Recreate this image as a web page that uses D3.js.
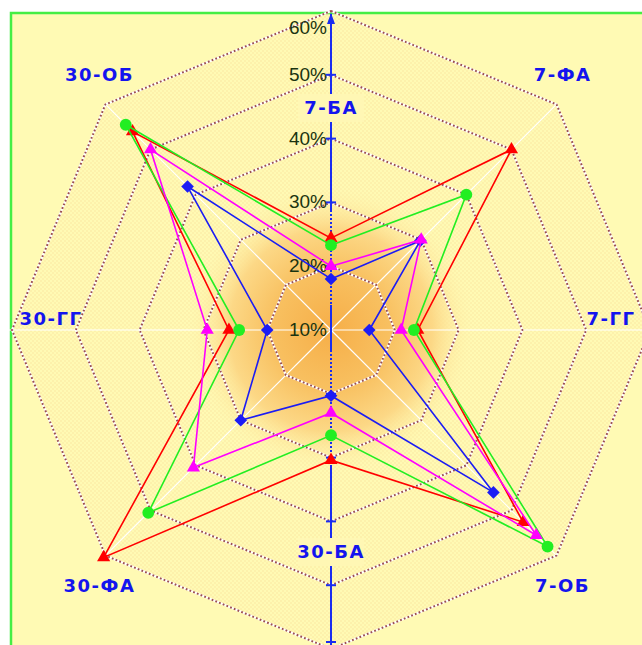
<!DOCTYPE html>
<html>
<head>
<meta charset="utf-8">
<script src="https://cdn.jsdelivr.net/npm/d3@7"></script>
<style>
  body { margin: 0; background: #fff; }
  svg { display: block; }
</style>
</head>
<body>
<div id="radar"></div>
<script>
// axes, clockwise from the top
var axes = ["7-БА", "7-ФА", "7-ГГ", "7-ОБ", "30-БА", "30-ФА", "30-ГГ", "30-ОБ"];
var tickValues = [10, 20, 30, 40, 50, 60];

// series values in %
var redValues     = [24.4, 50, 23.6, 52.6, 30.4, 60.4, 26, 54];
var greenValues   = [23.3, 40, 23, 58, 26.5, 50.5, 24.4, 55.5];
var blueValues    = [18, 29.8, 16, 46, 20.3, 30, 20, 41.8];
var magentaValues = [20, 30, 21, 55.5, 23, 40.5, 29.4, 50];

var series = [
  {values: redValues,     colour: "#ff0000", marker: "triangle"},
  {values: greenValues,   colour: "#22ee22", marker: "circle"},
  {values: blueValues,    colour: "#1c1cf4", marker: "diamond"},
  {values: magentaValues, colour: "#ff00ff", marker: "triangle"}
];

drawRadar();

function drawRadar() {
  var width = 642, height = 645;
  var cx = 331, cy = 330;
  var radius = 319;

  var r = d3.scaleLinear().domain([10, 60]).range([0, radius]);
  var angle = function(i) { return i * 2 * Math.PI / axes.length; };
  var px = function(i, v) { return cx + Math.sin(angle(i)) * r(v); };
  var py = function(i, v) { return cy - Math.cos(angle(i)) * r(v); };

  var svg = d3.select("#radar")
    .append("svg")
      .attr("width", width)
      .attr("height", height);

  var defs = svg.append("defs");

  var grad = defs.append("radialGradient")
      .attr("id", "glow")
      .attr("gradientUnits", "userSpaceOnUse")
      .attr("cx", cx).attr("cy", cy).attr("r", 145);
  grad.append("stop").attr("offset", "0%").attr("stop-color", "#f6ae48");
  grad.append("stop").attr("offset", "40%").attr("stop-color", "#f8c060");
  grad.append("stop").attr("offset", "70%").attr("stop-color", "#fcd886");
  grad.append("stop").attr("offset", "100%").attr("stop-color", "#fff6b0").attr("stop-opacity", 0);

  var pat = defs.append("pattern")
      .attr("id", "dots")
      .attr("patternUnits", "userSpaceOnUse")
      .attr("width", 4).attr("height", 4);
  pat.append("circle").attr("cx", 1).attr("cy", 1).attr("r", 0.7).attr("fill", "#f6d490");
  pat.append("circle").attr("cx", 3).attr("cy", 3).attr("r", 0.7).attr("fill", "#f6d490");

  // plot frame
  svg.append("rect")
    .attr("x", 11).attr("y", 13)
    .attr("width", width + 20).attr("height", height + 20)
    .attr("fill", "#fffab4")
    .attr("stroke", "#44ee44")
    .attr("stroke-width", 2.5);

  var ring = function(v) {
    return d3.range(axes.length).map(function(i) { return [px(i, v), py(i, v)]; });
  };
  var poly = d3.line().curve(d3.curveLinearClosed);

  svg.append("path")
    .attr("d", poly(ring(60)))
    .attr("fill", "url(#dots)")
    .attr("opacity", 0.7);

  svg.append("circle")
    .attr("cx", cx).attr("cy", cy).attr("r", 145)
    .attr("fill", "url(#glow)");

  // spokes
  svg.selectAll(".spoke")
    .data(d3.range(axes.length).filter(function(i) { return i % 4 != 0; }))
    .enter()
    .append("line")
      .attr("x1", cx).attr("y1", cy)
      .attr("x2", function(i) { return i % 4 == 2 ? cx + Math.sin(angle(i)) * 330 : px(i, 60); })
      .attr("y2", function(i) { return py(i, 60); })
      .attr("stroke", "#ffffff")
      .attr("stroke-width", 1.2);

  // dotted octagon rings
  var rings = tickValues.slice(1);
  svg.selectAll(".ringw")
    .data(rings).enter()
    .append("path")
      .attr("d", function(v) { return poly(ring(v)); })
      .attr("fill", "none")
      .attr("stroke", "#ffffff")
      .attr("stroke-width", 2.2);
  svg.selectAll(".ringd")
    .data(rings).enter()
    .append("path")
      .attr("d", function(v) { return poly(ring(v)); })
      .attr("fill", "none")
      .attr("stroke", "#9c5050")
      .attr("stroke-width", 2)
      .attr("stroke-dasharray", "1.8,2.2");

  // vertical value axis
  var axisColour = "#1a2cf0";
  var segs = [[14, cy - 120, null], [cy - 120, cy - 25, "2,2"], [cy - 25, cy + 20, null],
              [cy + 20, cy + 135, "2,2"], [cy + 135, height, null]];
  svg.selectAll(".vaxis")
    .data(segs).enter()
    .append("line")
      .attr("x1", cx).attr("x2", cx)
      .attr("y1", function(d) { return d[0]; })
      .attr("y2", function(d) { return d[1]; })
      .attr("stroke", axisColour)
      .attr("stroke-width", 2)
      .attr("stroke-dasharray", function(d) { return d[2]; });
  svg.append("path")
    .attr("d", "M" + cx + ",13 L" + (cx - 4) + ",24 L" + (cx + 4) + ",24 Z")
    .attr("fill", axisColour);

  var tickYs = [];
  tickValues.slice(1, 5).forEach(function(v) { tickYs.push(cy - r(v)); tickYs.push(cy + r(v)); });
  tickYs.push(height - 3);
  svg.selectAll(".tick")
    .data(tickYs).enter()
    .append("line")
      .attr("x1", cx - 5).attr("x2", cx + 5)
      .attr("y1", function(d) { return d; })
      .attr("y2", function(d) { return d; })
      .attr("stroke", axisColour)
      .attr("stroke-width", 2);

  svg.selectAll(".tlabel")
    .data(tickValues).enter()
    .append("text")
      .attr("x", cx - 4)
      .attr("y", function(v) { return Math.max(cy - r(v), 28) + 6; })
      .attr("text-anchor", "end")
      .style("font-family", "'Liberation Sans Narrow', 'Liberation Sans', sans-serif")
      .style("font-size", "19px")
      .style("fill", "#1a3410")
      .text(function(v) { return v + "%"; });

  // series
  var line = d3.line()
    .x(function(d, i) { return px(i, d); })
    .y(function(d, i) { return py(i, d); })
    .curve(d3.curveLinearClosed);

  var symbolFor = {
    triangle: d3.symbol().type(d3.symbolTriangle).size(75),
    circle: d3.symbol().type(d3.symbolCircle).size(110),
    diamond: d3.symbol().type(d3.symbolSquare).size(80)
  };

  series.forEach(function(s) {
    var g = svg.append("g");
    g.append("path")
      .attr("d", line(s.values))
      .attr("fill", "none")
      .attr("stroke", s.colour)
      .attr("stroke-width", 1.6);
    g.selectAll("path.mark")
      .data(s.values).enter()
      .append("path")
        .attr("class", "mark")
        .attr("d", symbolFor[s.marker])
        .attr("transform", function(d, i) {
          var t = "translate(" + px(i, d) + "," + py(i, d) + ")";
          return s.marker == "diamond" ? t + " rotate(45)" : t;
        })
        .attr("fill", s.colour);
  });

  // axis names
  var labelPos = function(i) {
    var sx = Math.sin(angle(i)), sy = -Math.cos(angle(i));
    if (i % 4 == 0) return [cx, cy + sy * 222];
    if (i % 4 == 2) return [cx + sx * 280, cy - 11];
    return [px(i, 60) + Math.sign(sx) * 6, py(i, 60) + Math.sign(sy) * 30];
  };

  var names = svg.selectAll(".aname")
    .data(axes).enter()
    .append("g")
      .attr("transform", function(d, i) { return "translate(" + labelPos(i) + ")"; });
  names.filter(function(d, i) { return i % 4 == 0; })
    .append("rect")
      .attr("x", -33).attr("y", -14)
      .attr("width", 66).attr("height", 28)
      .attr("fill", "#fff7b4");
  names.append("text")
    .attr("text-anchor", "middle")
    .attr("dy", "0.36em")
    .style("font-family", "'DejaVu Sans', Verdana, sans-serif")
    .style("font-weight", "bold")
    .style("font-size", "18px")
    .style("letter-spacing", "1.5px")
    .style("fill", "#1414ee")
    .text(function(d) { return d; });
}
</script>
</body>
</html>
